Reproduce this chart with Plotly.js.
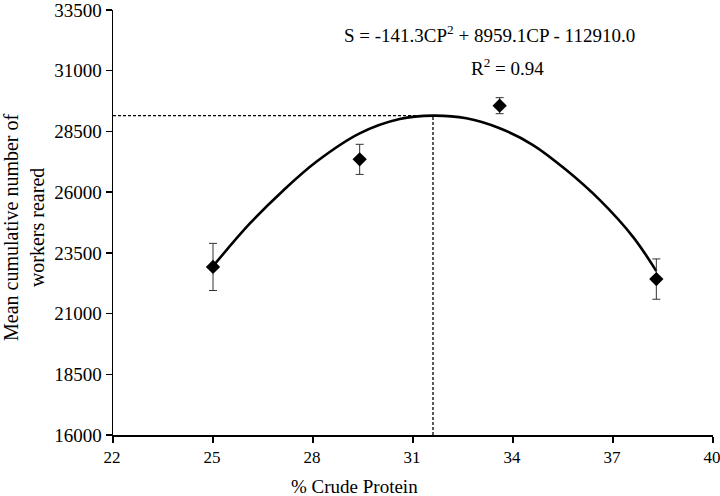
<!DOCTYPE html>
<html>
<head>
<meta charset="utf-8">
<script src="https://cdn.plot.ly/plotly-3.0.1.min.js"></script>
<style>html,body{margin:0;padding:0;background:#fff;}#chart{width:720px;height:496px;}</style>
</head>
<body>
<div id="chart"></div>
<script>
// Observed means (% crude protein vs. mean cumulative workers reared)
const proteinX = [25.0, 29.4, 33.6, 38.3];
const workersY = [22920, 27350, 29560, 22420];
const workersErr = [970, 620, 330, 830];

// Fitted quadratic curve
const curveX = [25.0, 26.1, 27.1, 28.1, 29.4, 30.6, 31.6, 32.6, 33.6, 34.6, 35.6, 36.6, 37.6, 38.3];
const curveY = [22950, 24700, 26060, 27250, 28420, 29010, 29150, 29040, 28630, 27940, 26910, 25680, 24160, 22750];

// Optimum marked with dashed guide lines
const optimumX = 31.6;
const optimumY = 29150;
const axisMinX = 22;
const axisMinY = 16000;

const yTicks = [16000, 18500, 21000, 23500, 26000, 28500, 31000, 33500];
const xTicks = [22, 25, 28, 31, 34, 37, 40];

const serif = "Times New Roman";

const traces = [
  {x: [axisMinX, optimumX], y: [optimumY, optimumY], mode: 'lines', type: 'scatter',
   line: {color: '#000', width: 1.3, dash: '3px,2px'}, hoverinfo: 'skip'},
  {x: [optimumX, optimumX], y: [axisMinY, optimumY], mode: 'lines', type: 'scatter',
   line: {color: '#000', width: 1.3, dash: '3px,2px'}, hoverinfo: 'skip'},
  {x: curveX, y: curveY, mode: 'lines', type: 'scatter',
   line: {color: '#000', width: 2.6, shape: 'spline', smoothing: 1}},
  {x: proteinX, y: workersY, mode: 'markers', type: 'scatter',
   marker: {symbol: 'diamond', size: 11, color: '#000'},
   error_y: {type: 'data', array: workersErr, visible: true, color: '#333', thickness: 1, width: 4}}
];

const layout = {
  width: 720, height: 496,
  margin: {l: 113, r: 7, t: 10, b: 61},
  paper_bgcolor: '#fff', plot_bgcolor: '#fff',
  showlegend: false,
  font: {family: serif, color: '#000', size: 18},
  xaxis: {range: [22, 40], tickvals: xTicks, ticktext: xTicks.map(String),
    ticklabeloverflow: 'allow', ticklabelshift: -1,
    showgrid: false, zeroline: false, showline: true, linecolor: '#000', linewidth: 1.5,
    ticks: 'outside', ticklen: 6, tickwidth: 1.5, tickcolor: '#000',
    tickfont: {family: serif, size: 17, color: '#000'}},
  yaxis: {range: [16000, 33500], tickvals: yTicks, ticktext: yTicks.map(String),
    ticklabeloverflow: 'allow',
    showgrid: false, zeroline: false, showline: true, linecolor: '#000', linewidth: 1.5,
    ticks: 'outside', ticklen: 6, tickwidth: 1.5, tickcolor: '#000',
    tickfont: {family: serif, size: 19, color: '#000'}},
  annotations: [
    {text: '% Crude Protein', xref: 'paper', yref: 'paper', x: (354 - 113) / 600, y: -(486 - 435) / 425,
     xanchor: 'center', yanchor: 'middle', showarrow: false, font: {family: serif, size: 19, color: '#000'}},
    {text: 'Mean cumulative number of<br>workers reared', xref: 'paper', yref: 'paper',
     x: (24 - 113) / 600, y: (435 - 228) / 425, xanchor: 'center', yanchor: 'middle',
     textangle: -90, showarrow: false, font: {family: serif, size: 20, color: '#000'}},
    {text: 'S = -141.3CP<sup>2</sup> + 8959.1CP - 112910.0', xref: 'paper', yref: 'paper',
     x: (489 - 113) / 600, y: (435 - 34) / 425, xanchor: 'center', yanchor: 'middle',
     showarrow: false, font: {family: serif, size: 19, color: '#000'}},
    {text: 'R<sup>2</sup> = 0.94', xref: 'paper', yref: 'paper',
     x: (507 - 113) / 600, y: (435 - 67) / 425, xanchor: 'center', yanchor: 'middle',
     showarrow: false, font: {family: serif, size: 19, color: '#000'}}
  ]
};

Plotly.newPlot('chart', traces, layout, {displayModeBar: false, staticPlot: true});
</script>
</body>
</html>
